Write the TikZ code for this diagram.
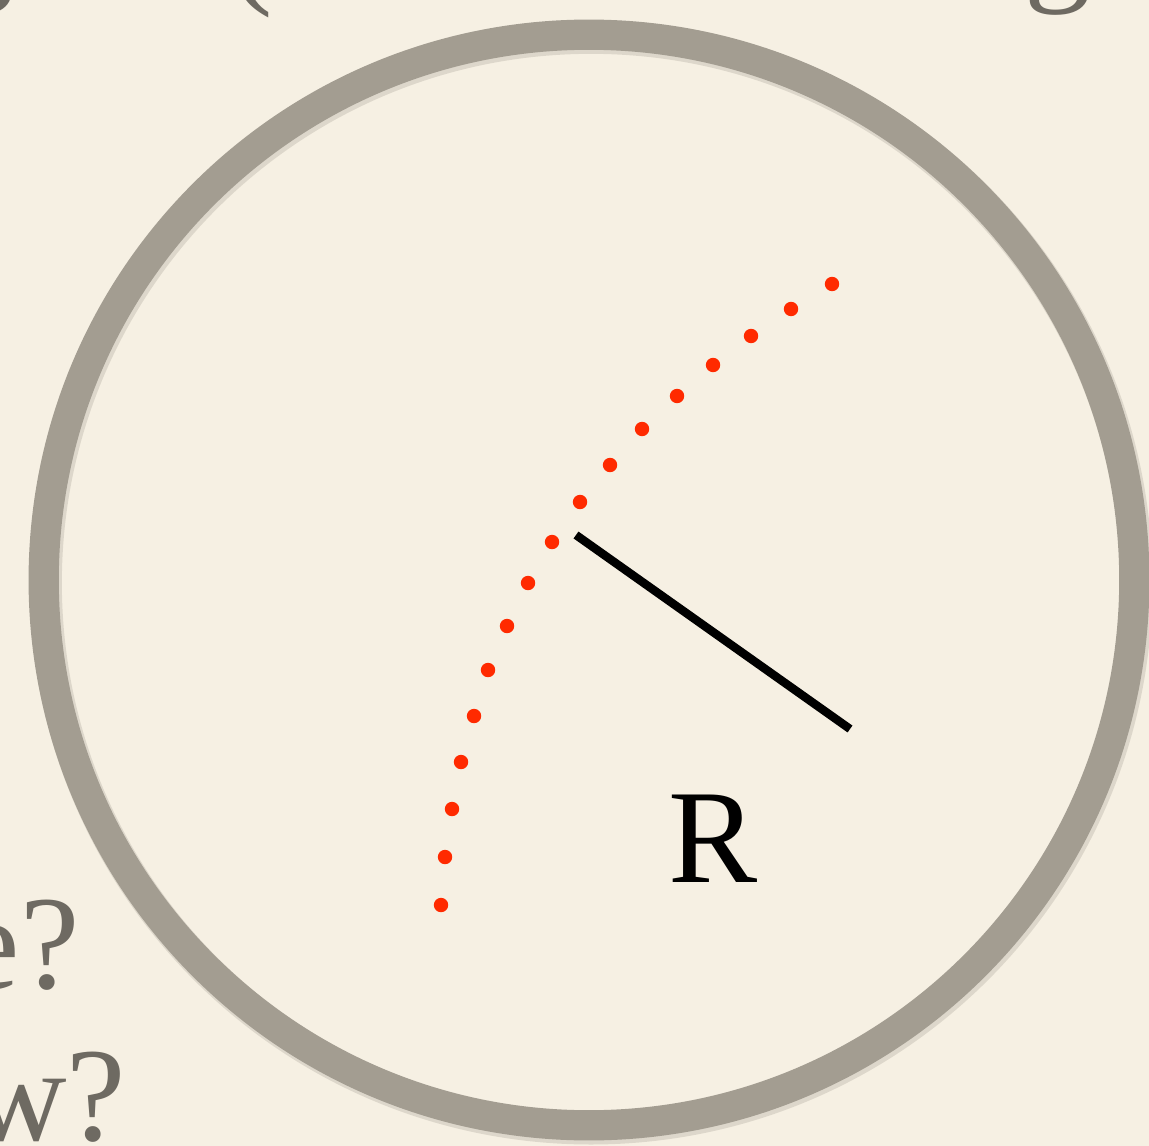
\documentclass[tikz,border=0pt]{standalone}
\usepackage{fontspec}
\setmainfont{Liberation Serif}
\usepackage{tikz}

\definecolor{paper}{HTML}{F6F0E3}
\definecolor{ring}{HTML}{A39D91}
\definecolor{ringshadow}{HTML}{7D776C}
\definecolor{dotred}{HTML}{FF2A00}
\definecolor{slidegray}{HTML}{6E6A62}

\begin{document}
\begin{tikzpicture}[x=0.01cm,y=-0.01cm,
    bigtext/.style={inner sep=0pt, font=\fontsize{38}{40}\selectfont},
    faded/.style={bigtext, text=slidegray},
    pathdot/.style={fill=dotred}]
\useasboundingbox (0,0) rectangle (1149,1146);
\clip (0,0) rectangle (1149,1146);
\fill[paper] (0,0) rectangle (1149,1146);

    % Text of the slide behind the picture
    \node[faded, anchor=base east] (topg) at (15,-13) {g};
    \node[faded, anchor=base west] (paren) at (228,-10) {(};
    \node[faded, anchor=base west] (rightg) at (1024,-13) {g};
    \node[faded, anchor=base east] (lineone) at (80,988) {e?};
    \node[faded, anchor=base east] (linetwo) at (127,1140) {w?};

    % Draw the ring with its shadow
    \coordinate (centre) at (589,580);
    \draw[ringshadow, opacity=0.2, line width=9.2pt] ([shift={(2,3)}]centre) circle (5.45cm);
    \draw[ring, line width=8.6pt] (centre) circle (5.45cm);

    % Red dots along the path
    \foreach \px/\py [count=\i] in {832/284, 791/309, 751/336, 713/365, 677/396,
        642/429, 610/465, 580/502, 552/542, 528/583, 507/626, 488/670,
        474/716, 461/762, 452/809, 445/857, 441/905}
        \fill[pathdot] (\px,\py) circle (0.072cm);

    % Radius R
    \coordinate (rstart) at (576,535);
    \coordinate (rend) at (850,729);
    \draw[black, line width=2.4pt] (rstart) -- (rend);
    \node[bigtext, anchor=base] (rlabel) at (713,882) {R};

\end{tikzpicture}
\end{document}
